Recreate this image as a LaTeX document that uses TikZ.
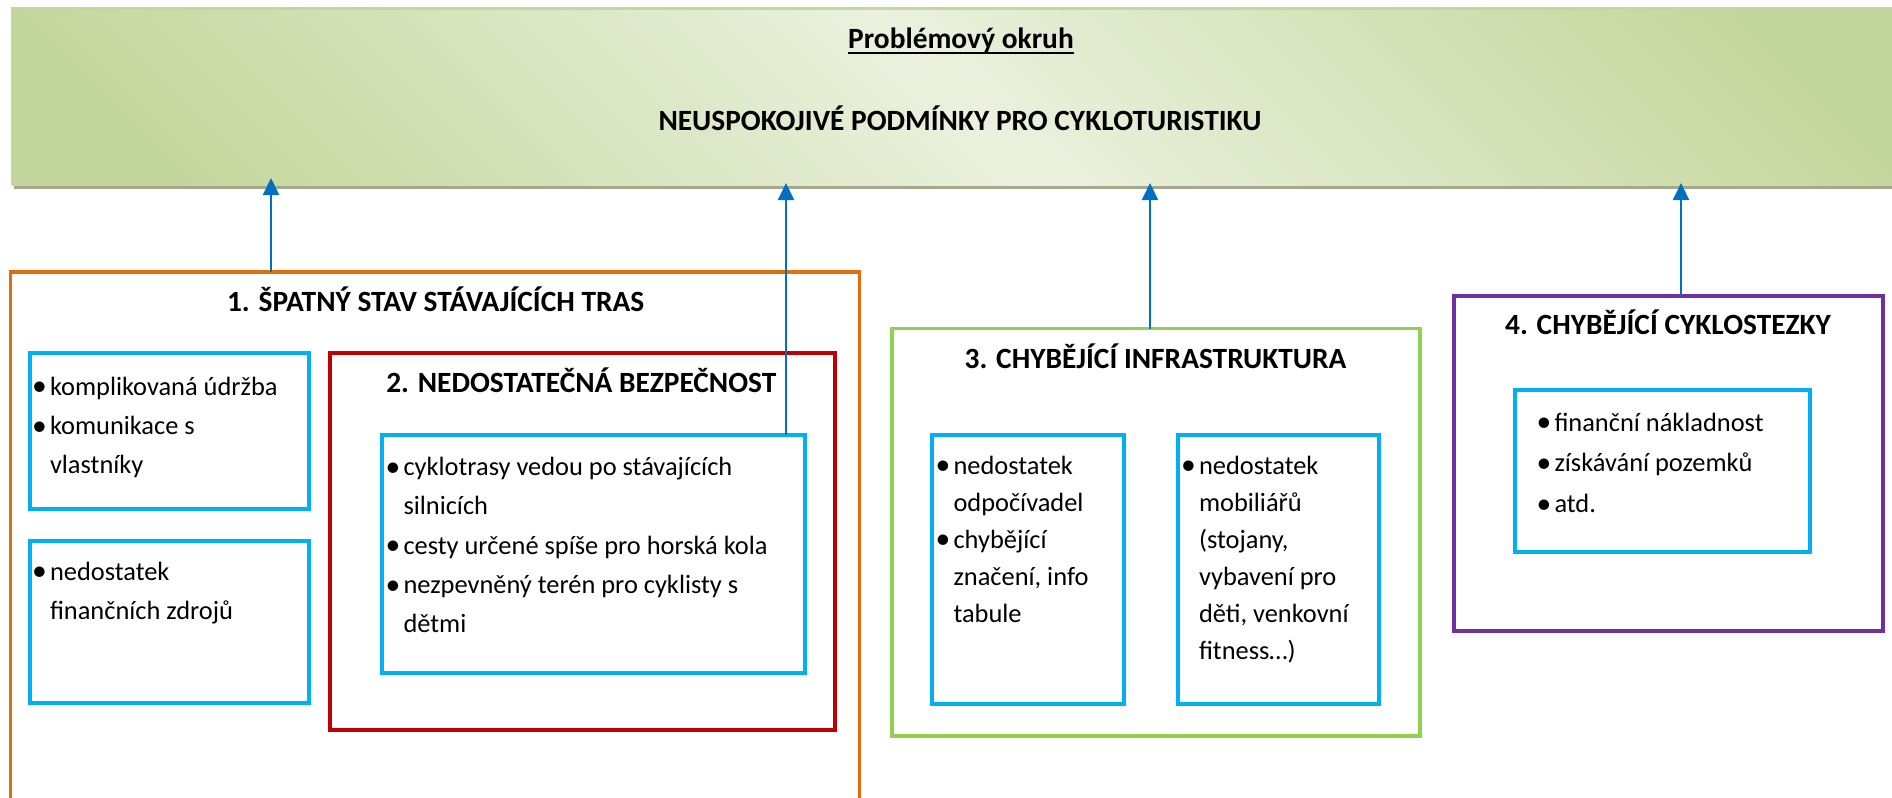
\documentclass[tikz,border=0pt]{standalone}
\usepackage{fontspec}
\setmainfont{Carlito}
\usetikzlibrary{arrows.meta,fit,shadows}

\definecolor{modra}{HTML}{00B0F0}
\definecolor{sipkova}{HTML}{0070C0}
\definecolor{oranzova}{HTML}{E46C0A}
\definecolor{cervena}{HTML}{C00000}
\definecolor{zelena}{HTML}{92D050}
\definecolor{fialova}{HTML}{7030A0}
\definecolor{bansvetla}{HTML}{EBF1DE}
\definecolor{bantmava}{HTML}{C3D69B}
\definecolor{banstin}{HTML}{A5A98C}

\pgfdeclarehorizontalshading{bannershade}{100bp}{color(0bp)=(bantmava); color(20bp)=(bantmava); color(50bp)=(bansvetla); color(80bp)=(bantmava); color(100bp)=(bantmava)}

\newcommand{\odr}{\makebox[16.5bp][l]{\hspace*{-1.5bp}\raisebox{-0.03em}{\scalebox{1.12}{•}}}}
\newcommand{\pokr}{\hspace*{16.5bp}}

\begin{document}
\begin{tikzpicture}[x=1bp,y=-1bp,
  every node/.style={inner sep=0pt,outer sep=0pt},
  ramec/.style={draw,rectangle,line width=4bp},
  nadpis/.style={anchor=base,font=\bfseries\fontsize{29.5}{35}\selectfont},
  seznam/.style={anchor=base west,font=\fontsize{26.5}{#1}\selectfont},
  seznam/.default=39.5,
  sipka/.style={draw=sipkova,line width=2bp,-{Triangle[width=16bp,length=17bp]}}]
  \useasboundingbox (0,0) rectangle (1892,798);

  % Problémový okruh (pruh nahoře)
  \node[fit={(12,9) (1908,185)}, shading=bannershade, shading angle=45,
        general shadow={fill=banstin, shadow xshift=2bp, shadow yshift=-4bp}] (okruh) {};
  \draw[bantmava, line width=3bp] (okruh.south west) |- (okruh.north east);
  \node[nadpis] (okruhT) at (961,48.3) {Problémový okruh};
  \draw[line width=2bp] ([yshift=-4.5bp]okruhT.base west) -- ([yshift=-4.5bp]okruhT.base east);
  \node[nadpis] (problem) at (960,130.7) {NEUSPOKOJIVÉ PODMÍNKY PRO CYKLOTURISTIKU};

  % 1. Špatný stav stávajících tras
  \node[ramec, draw=oranzova, line width=3.5bp, fit={(10.5,272) (859.5,830)}] (trasy) {};
  \node[nadpis] (trasyT) at (435.7,311) {1. ŠPATNÝ STAV STÁVAJÍCÍCH TRAS};
  \node[ramec, draw=modra, fit={(29.5,353) (309,508.5)}] (udrzba) {};
  \node[seznam] (udrzbaT) at (33.5,395) {\parbox[t]{270bp}{\odr komplikovaná údržba\\ \odr komunikace s\\ \pokr vlastníky}};
  \node[ramec, draw=modra, fit={(29.5,540.5) (309,702.5)}] (zdroje) {};
  \node[seznam] (zdrojeT) at (33.5,580) {\parbox[t]{270bp}{\odr nedostatek\\ \pokr finančních zdrojů}};

  % 2. Nedostatečná bezpečnost
  \node[ramec, draw=cervena, fit={(329.5,353) (834.5,729.5)}] (bezp) {};
  \node[nadpis] (bezpT) at (581.3,392.6) {2. NEDOSTATEČNÁ BEZPEČNOST};
  \node[ramec, draw=modra, fit={(382,435) (805,673)}] (silnice) {};
  \node[seznam] (silniceT) at (387,475.4) {\parbox[t]{420bp}{\odr cyklotrasy vedou po stávajících\\ \pokr silnicích\\ \odr cesty určené spíše pro horská kola\\ \odr nezpevněný terén pro cyklisty s\\ \pokr dětmi}};

  % 3. Chybějící infrastruktura
  \node[ramec, draw=zelena, line width=3.5bp, fit={(892,328.5) (1420,736)}] (infra) {};
  \node[nadpis] (infraT) at (1155.5,368) {3. CHYBĚJÍCÍ INFRASTRUKTURA};
  \node[ramec, draw=modra, fit={(932,435) (1124,703.5)}] (odpoc) {};
  \node[seznam=37.2] (odpocT) at (937,474) {\parbox[t]{200bp}{\odr nedostatek\\ \pokr odpočívadel\\ \odr chybějící\\ \pokr značení, info\\ \pokr tabule}};
  \node[ramec, draw=modra, fit={(1177.5,435) (1378.5,703.5)}] (mobil) {};
  \node[seznam=37.2] (mobilT) at (1182.5,474) {\parbox[t]{200bp}{\odr nedostatek\\ \pokr mobiliářů\\ \pokr (stojany,\\ \pokr vybavení pro\\ \pokr děti, venkovní\\ \pokr fitness…)}};

  % 4. Chybějící cyklostezky
  \node[ramec, draw=fialova, fit={(1454,295.5) (1882.5,631)}] (stezky) {};
  \node[nadpis] (stezkyT) at (1668,334.6) {4. CHYBĚJÍCÍ CYKLOSTEZKY};
  \node[ramec, draw=modra, fit={(1514.5,390) (1809.5,551.5)}] (naklady) {};
  \node[seznam=41] (nakladyT) at (1538,431) {\parbox[t]{280bp}{\odr finanční nákladnost\\ \odr získávání pozemků\\ \odr atd.}};

  % Šipky k problémovému okruhu
  \coordinate (z1) at (271,272);
  \coordinate (z2) at (786,435);
  \coordinate (z3) at (1150,328.5);
  \coordinate (z4) at (1681,295.5);
  \foreach \z/\p in {z1/7bp, z2/2bp, z3/2bp, z4/2bp}
    \draw[sipka, shorten >=-\p] (\z) -- (\z |- okruh.south);
\end{tikzpicture}
\end{document}
